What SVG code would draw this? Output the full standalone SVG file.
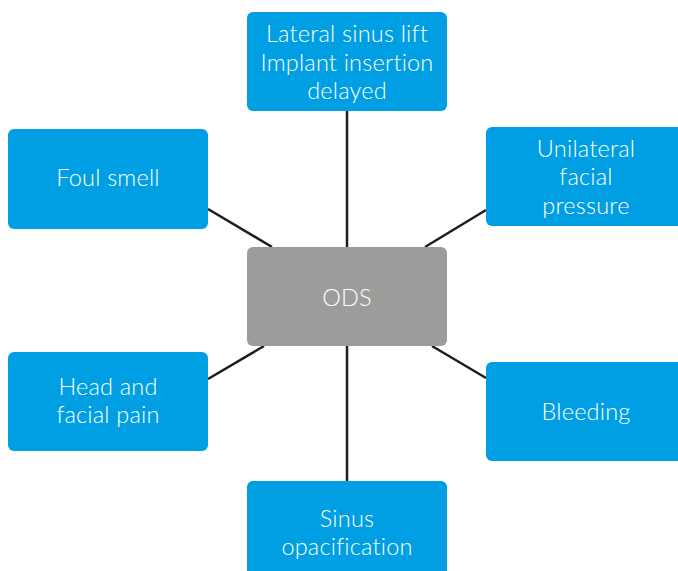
<svg xmlns="http://www.w3.org/2000/svg" width="678" height="571" viewBox="0 0 678 571">
  <style>
    .box { fill: #009FE3; }
    .hub { fill: #9C9C9B; }
    .lbl { font-family: "Lato", "Open Sans", sans-serif; font-size: 23.5px; font-weight: 300; letter-spacing: 0.2px; fill: #ffffff; text-anchor: middle; }
    .link { stroke: #1d1d1b; stroke-width: 2.5; fill: none; }
  </style>
  <rect width="678" height="571" fill="#ffffff"/>
  <g id="connectors">
    <line class="link" x1="347" y1="111" x2="347" y2="247"/>
    <line class="link" x1="347" y1="346" x2="347" y2="481"/>
    <line class="link" x1="208" y1="209" x2="272" y2="247"/>
    <line class="link" x1="486" y1="210" x2="425" y2="247"/>
    <line class="link" x1="208" y1="379" x2="264" y2="346"/>
    <line class="link" x1="486" y1="378" x2="432" y2="346"/>
  </g>
  <g id="node-ods">
    <rect class="hub" x="247" y="247" width="200" height="99" rx="6"/>
    <text class="lbl" x="347" y="306">ODS</text>
  </g>
  <g id="node-sinus-lift">
    <rect class="box" x="247" y="12" width="200" height="99" rx="6"/>
    <text class="lbl" x="347" y="42">Lateral sinus lift</text>
    <text class="lbl" x="347" y="71">Implant insertion</text>
    <text class="lbl" x="347" y="99">delayed</text>
  </g>
  <g id="node-foul-smell">
    <rect class="box" x="8" y="129" width="200" height="100" rx="6"/>
    <text class="lbl" x="108" y="186">Foul smell</text>
  </g>
  <g id="node-facial-pressure">
    <rect class="box" x="486" y="127" width="200" height="99" rx="6"/>
    <text class="lbl" x="586" y="157">Unilateral</text>
    <text class="lbl" x="586" y="185">facial</text>
    <text class="lbl" x="586" y="214">pressure</text>
  </g>
  <g id="node-head-pain">
    <rect class="box" x="8" y="352" width="200" height="99" rx="6"/>
    <text class="lbl" x="108" y="395">Head and</text>
    <text class="lbl" x="108" y="423">facial pain</text>
  </g>
  <g id="node-bleeding">
    <rect class="box" x="486" y="362" width="200" height="99" rx="6"/>
    <text class="lbl" x="586" y="420">Bleeding</text>
  </g>
  <g id="node-opacification">
    <rect class="box" x="247" y="481" width="200" height="99" rx="6"/>
    <text class="lbl" x="347" y="527">Sinus</text>
    <text class="lbl" x="347" y="555">opacification</text>
  </g>
</svg>
